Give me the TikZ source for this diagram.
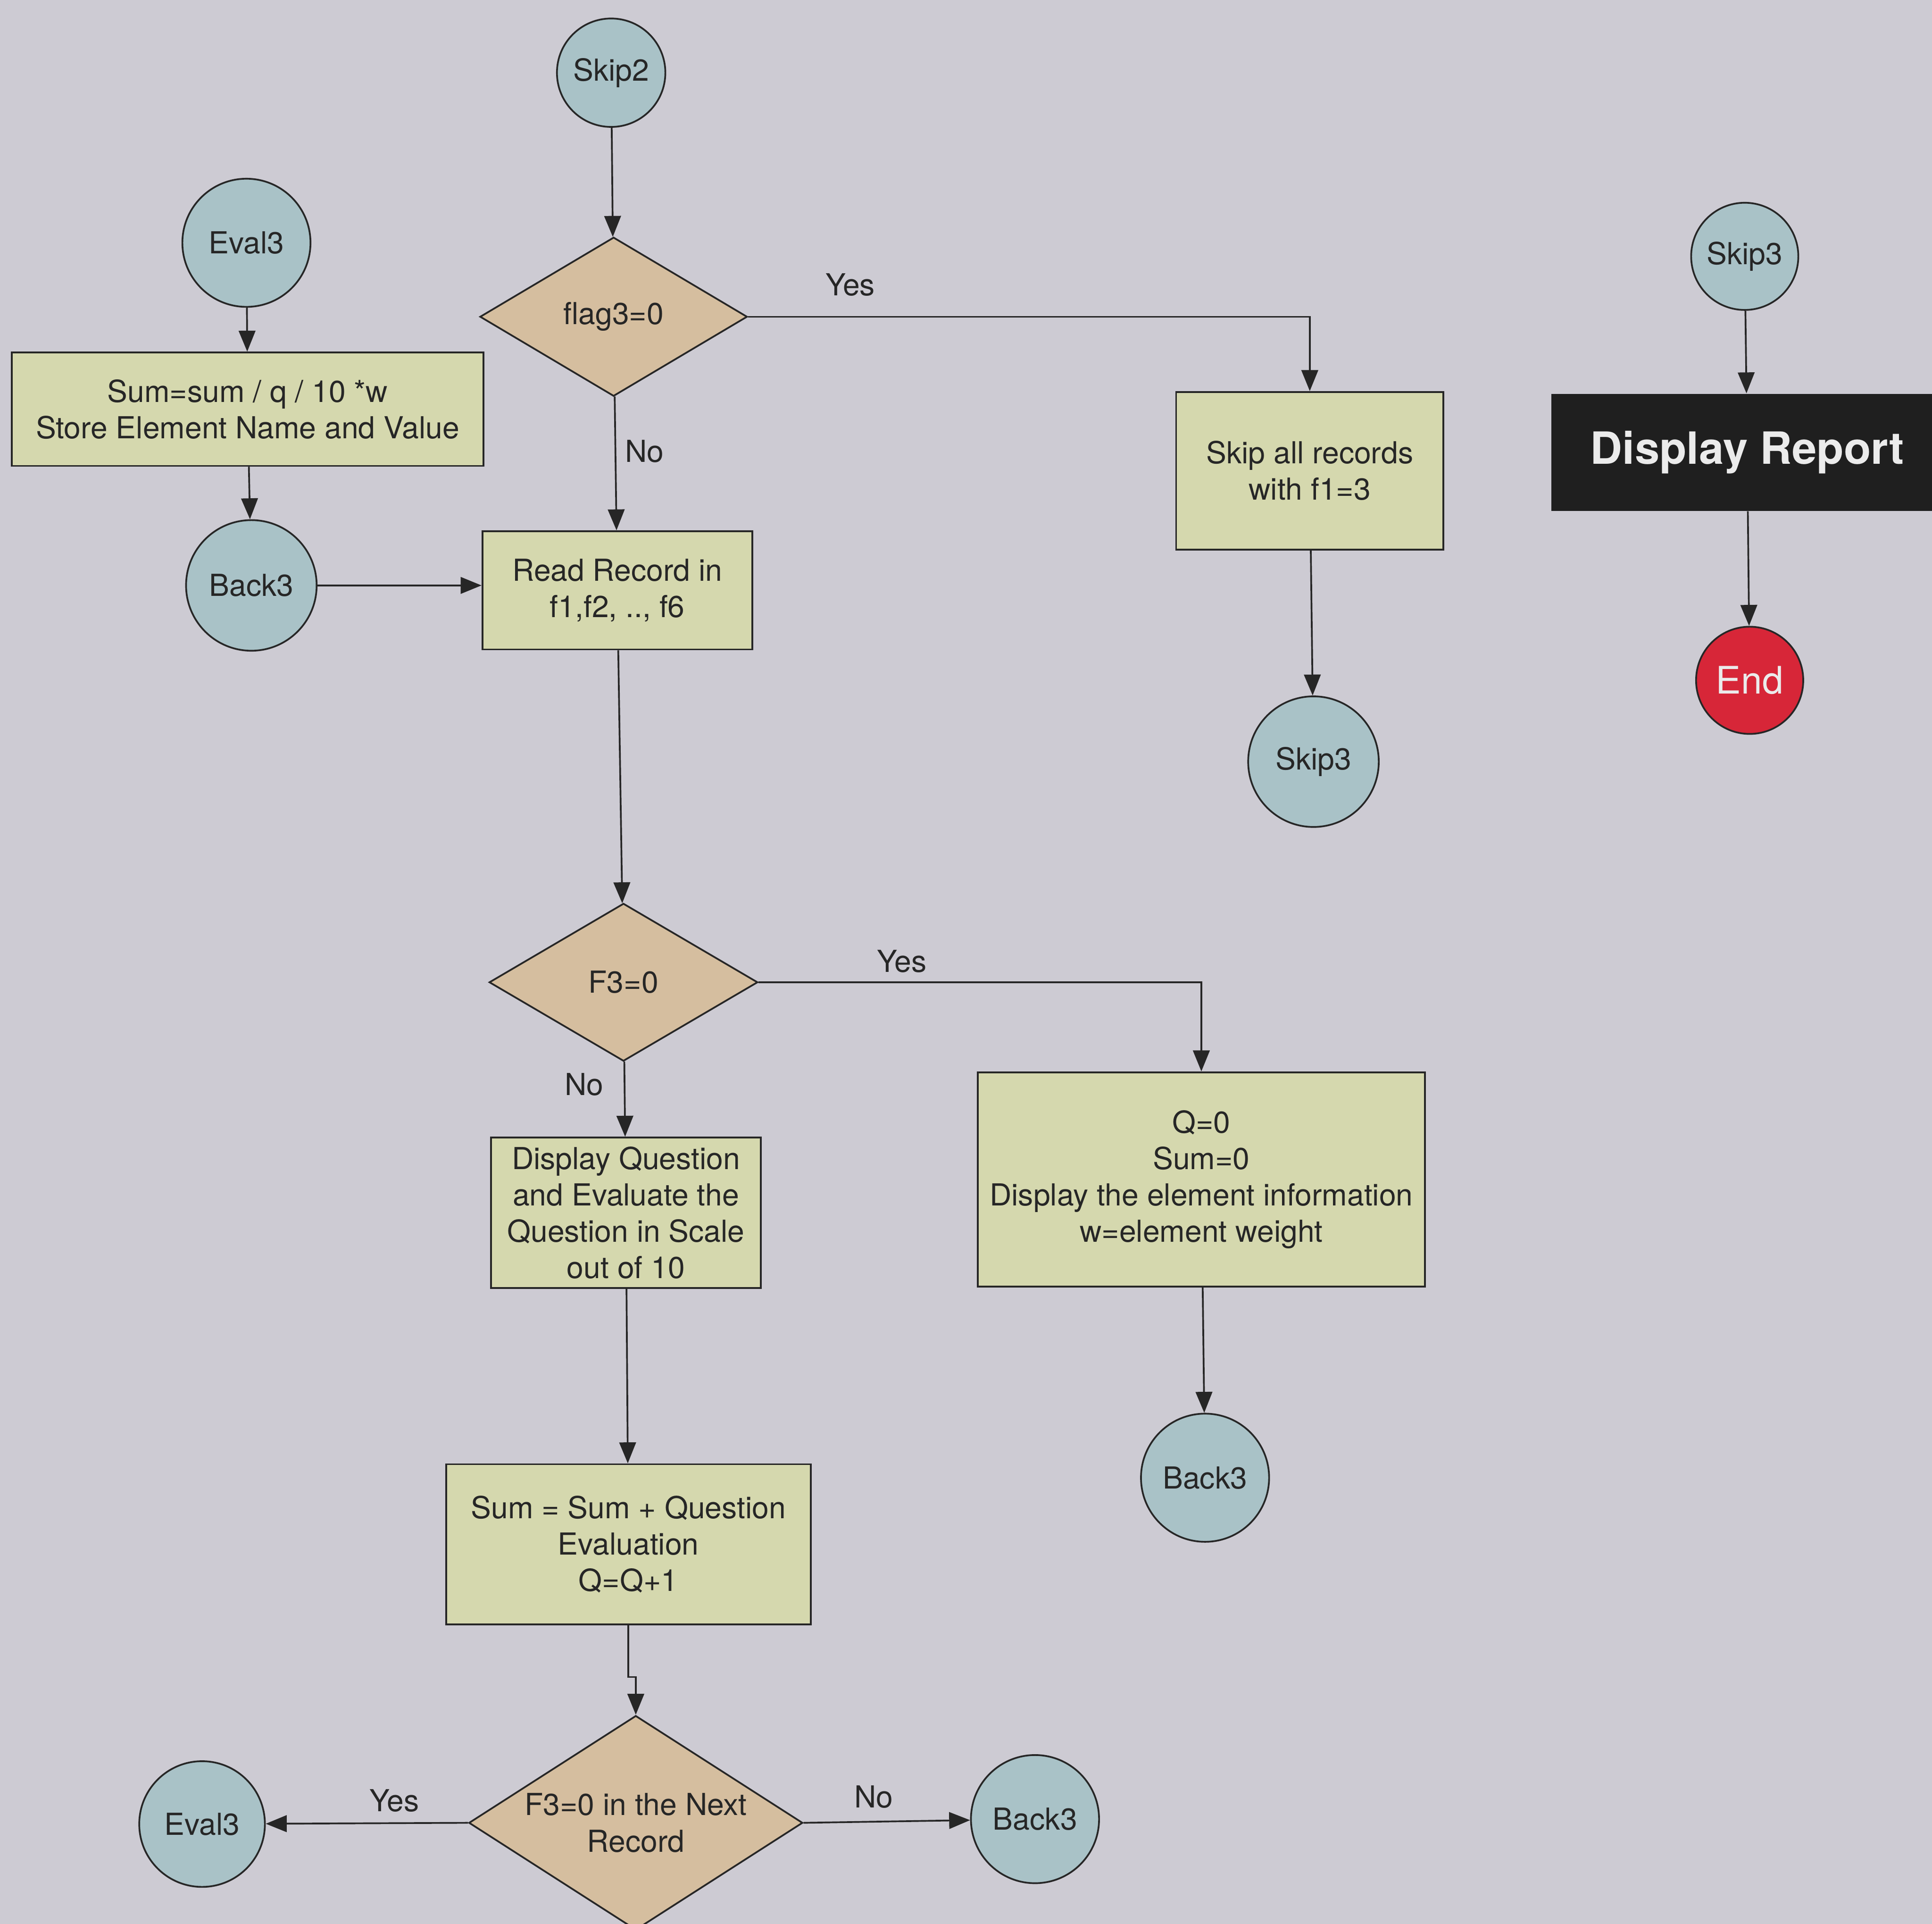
\documentclass[tikz,border=0pt]{standalone}
\usepackage{fontspec}
\setmainfont{TeX Gyre Heros}
\usetikzlibrary{shapes.geometric,arrows.meta}
\definecolor{slidebg}{HTML}{CDCBD3}
\definecolor{connfill}{HTML}{A9C2C7}
\definecolor{procfill}{HTML}{D5D8AE}
\definecolor{decfill}{HTML}{D5BE9F}
\definecolor{endfill}{HTML}{D72638}
\definecolor{inkline}{HTML}{262626}
\tikzset{
  connector/.style={circle,draw=inkline,fill=connfill,line width=0.8pt,inner sep=0pt,
    font=\fontsize{14}{16.8}\selectfont,text=black!85},
  procbox/.style={rectangle,draw=inkline,fill=procfill,line width=0.8pt,inner sep=0pt,
    align=center,font=\fontsize{14}{16.8}\selectfont,text=black!85},
  decision/.style={diamond,draw=inkline,fill=decfill,line width=0.8pt,inner sep=0pt,
    align=center,font=\fontsize{14}{16.8}\selectfont,text=black!85},
  flow/.style={draw=inkline,line width=0.8pt,-{Triangle[length=0.34cm,width=0.27cm]}},
  branch/.style={font=\fontsize{14}{16.8}\selectfont,text=black!85}
}
\begin{document}
\begin{tikzpicture}[x=0.02cm,y=-0.02cm]
    % Draw slide background
    \fill[slidebg] (0,0) rectangle (1568,1561);
    \useasboundingbox (0,0) rectangle (1568,1561);
    % Draw left column
    \node[connector,minimum size=1.76cm] (skiptwo) at (496,59) {Skip2};
    \node[decision,minimum width=4.34cm,minimum height=2.58cm,aspect=1.68] (flagthree) at (498,257) {flag3=0};
    \node[connector,minimum size=2.08cm] (evaltop) at (200,197) {Eval3};
    \node[procbox,minimum width=7.66cm,minimum height=1.84cm] (sumstore) at (201,332) {Sum=sum / q / 10 *w\\Store Element Name and Value};
    \node[connector,minimum size=2.12cm] (backtop) at (204,475) {Back3};
    \node[procbox,minimum width=4.38cm,minimum height=1.92cm] (readrec) at (501,479) {Read Record in\\f1,f2, .., f6};
    \node[decision,minimum width=4.36cm,minimum height=2.56cm,aspect=1.7] (fthree) at (506,797) {F3=0};
    \node[procbox,minimum width=4.38cm,minimum height=2.44cm] (dispq) at (508,984) {Display Question\\and Evaluate the\\Question in Scale\\out of 10};
    \node[procbox,minimum width=5.92cm,minimum height=2.6cm] (sumadd) at (510,1253) {Sum = Sum + Question\\Evaluation\\Q=Q+1};
    \node[decision,minimum width=5.42cm,minimum height=3.48cm,aspect=1.56] (nextrec) at (516,1479) {F3=0 in the Next\\Record};
    \node[connector,minimum size=2.04cm] (evalbot) at (164,1480) {Eval3};
    \node[connector,minimum size=2.08cm] (backbot) at (840,1476) {Back3};
    % Draw middle column
    \node[procbox,minimum width=4.34cm,minimum height=2.56cm] (skiprec) at (1063,382) {Skip all records\\with f1=3};
    \node[connector,minimum size=2.12cm] (skipmid) at (1066,618) {Skip3};
    \node[procbox,minimum width=7.26cm,minimum height=3.48cm] (initq) at (975,957) {Q=0\\Sum=0\\Display the element information\\w=element weight};
    \node[connector,minimum size=2.08cm] (backmid) at (978,1199) {Back3};
    % Draw right column
    \node[connector,minimum size=1.74cm] (skiptop) at (1416,208) {Skip3};
    \node[rectangle,fill=black!88,minimum width=6.36cm,minimum height=1.9cm,inner sep=0pt,
      font=\fontsize{20.5}{24}\selectfont\bfseries,text=white!92!black] (report) at (1418,367) {Display Report};
    \node[connector,fill=endfill,minimum size=1.74cm,text=white!92!black,
      font=\fontsize{17.5}{20}\selectfont] (finish) at (1420,552) {End};
    % Draw connectors
    \draw[flow] (skiptwo) -- (flagthree);
    \draw[flow] (flagthree.east) -| (skiprec.north);
    \draw[flow] (flagthree) -- (readrec);
    \draw[flow] (evaltop) -- (sumstore);
    \draw[flow] (sumstore) -- (backtop);
    \draw[flow] (backtop.east) -- (backtop.east -| readrec.west);
    \draw[flow] (readrec) -- (fthree);
    \draw[flow] (fthree.east) -| (initq.north);
    \draw[flow] (fthree) -- (dispq);
    \draw[flow] (initq) -- (backmid);
    \draw[flow] (dispq) -- (sumadd);
    \draw[flow] (sumadd.south) -- ++(0,42) -| (nextrec.north);
    \draw[flow] (nextrec.west) -- (evalbot);
    \draw[flow] (nextrec.east) -- (backbot);
    \draw[flow] (skiprec) -- (skipmid);
    \draw[flow] (skiptop) -- (report);
    \draw[flow] (report) -- (finish);
    % Draw branch labels
    \node[branch] (yesflag) at (690,231) {Yes};
    \node[branch] (noflag) at (523,366) {No};
    \node[branch] (yesf) at (732,780) {Yes};
    \node[branch] (nof) at (474,880) {No};
    \node[branch] (yesnext) at (320,1461) {Yes};
    \node[branch] (nonext) at (709,1458) {No};
\end{tikzpicture}
\end{document}
